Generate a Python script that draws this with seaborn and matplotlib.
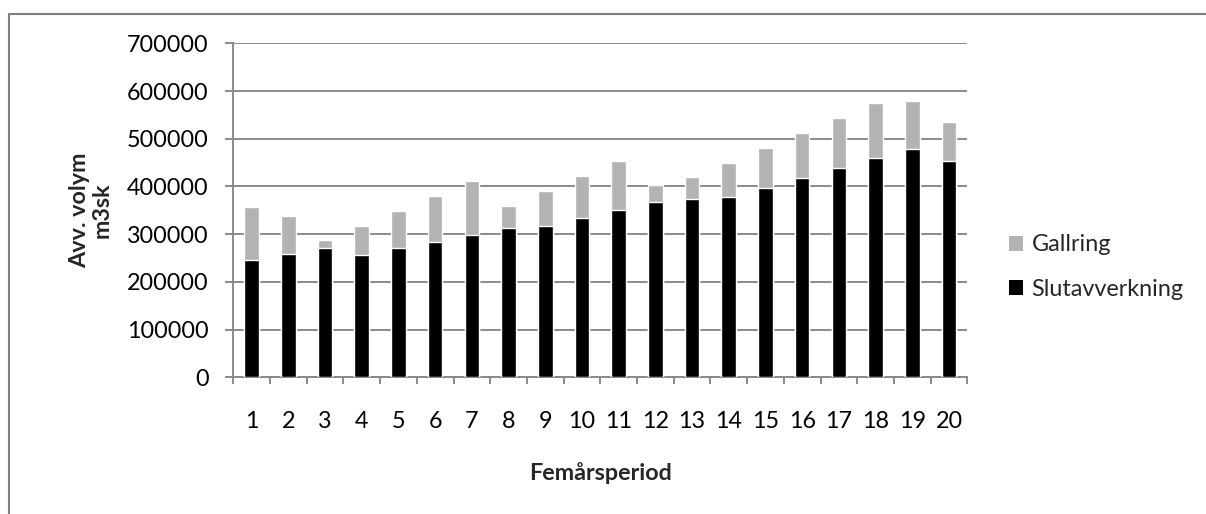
import matplotlib
matplotlib.use("Agg")
import matplotlib.pyplot as plt
import seaborn as sns
import pandas as pd
from matplotlib.patches import Patch
from matplotlib.lines import Line2D
from matplotlib.ticker import FixedLocator, FuncFormatter

periods = [str(i) for i in range(1, 21)]
slutavverkning = [246000, 258000, 272000, 257000, 270000, 284000, 298000, 313000, 317000, 333000,
                  350000, 367000, 373000, 378000, 397000, 418000, 439000, 460000, 479000, 454000]
gallring = [110000, 80000, 15000, 61000, 79000, 97000, 113000, 47000, 74000, 89000,
            103000, 35000, 46000, 72000, 84000, 95000, 104000, 115000, 101000, 82000]
y_ticks = [0, 100000, 200000, 300000, 400000, 500000, 600000, 700000]

df = pd.DataFrame({"period": periods, "Slutavverkning": slutavverkning, "Gallring": gallring})
df["total"] = df["Slutavverkning"] + df["Gallring"]

sns.set_theme(style="white")
plt.rcParams["font.family"] = ["Lato", "DejaVu Sans"]

GRAY = "#b3b3b3"
GRID = "#8a8a8a"
FS = 16.8

fig = plt.figure(figsize=(12.06, 5.14), dpi=100)
ax = fig.add_axes([233.3 / 1206, 1 - 377.3 / 514, (967.3 - 233.3) / 1206, (377.3 - 43.3) / 514])

sns.barplot(data=df, x="period", y="total", color=GRAY, width=0.4, ax=ax, saturation=1, zorder=3)
sns.barplot(data=df, x="period", y="Slutavverkning", color="black", width=0.4, ax=ax, saturation=1, zorder=4)

ax.set_xlim(-0.5, len(periods) - 0.5)
ax.set_ylim(0, 700000)
ax.yaxis.set_major_locator(FixedLocator(y_ticks))
ax.yaxis.set_major_formatter(FuncFormatter(lambda v, p: f"{int(v)}"))
ax.grid(axis="y", color=GRID, linewidth=1.4, zorder=0)
ax.set_axisbelow(True)

for s in ["top", "right"]:
    ax.spines[s].set_visible(False)
for s in ["left", "bottom"]:
    ax.spines[s].set_color(GRID)
    ax.spines[s].set_linewidth(1.4)

ax.tick_params(axis="y", which="major", left=True, length=5.8, width=1.4, color=GRID,
               labelsize=FS, pad=12, labelcolor="black")
ax.tick_params(axis="x", which="major", bottom=False, length=0, labelsize=FS, pad=24, labelcolor="black")
ax.xaxis.set_minor_locator(FixedLocator([i - 0.5 for i in range(len(periods) + 1)]))
ax.tick_params(axis="x", which="minor", bottom=True, length=5, width=1.4, color=GRID)

ax.set_xlabel("Femårsperiod", fontsize=FS, fontweight="bold", labelpad=22)
ax.set_ylabel("Avv. volym\nm3sk", fontsize=FS, fontweight="bold", labelpad=10, linespacing=1.1)

handles = [Patch(facecolor=GRAY, edgecolor="none", label="Gallring"),
           Patch(facecolor="black", edgecolor="none", label="Slutavverkning")]
fig.legend(handles=handles, loc="center left", bbox_to_anchor=(1009 / 1206, 1 - 267 / 514),
           frameon=False, fontsize=FS, handlelength=0.62, handleheight=0.62,
           handletextpad=0.35, labelspacing=1.0, borderpad=0, borderaxespad=0)

# chart-area border (top and left visible)
fig.add_artist(Line2D([8.5 / 1206, 1.0], [1 - 13.5 / 514, 1 - 13.5 / 514], transform=fig.transFigure,
                      color="#808080", linewidth=1.5))
fig.add_artist(Line2D([8.5 / 1206, 8.5 / 1206], [0, 1 - 13.5 / 514], transform=fig.transFigure,
                      color="#808080", linewidth=1.5))

fig.savefig("out.png", dpi=100, facecolor="white")
